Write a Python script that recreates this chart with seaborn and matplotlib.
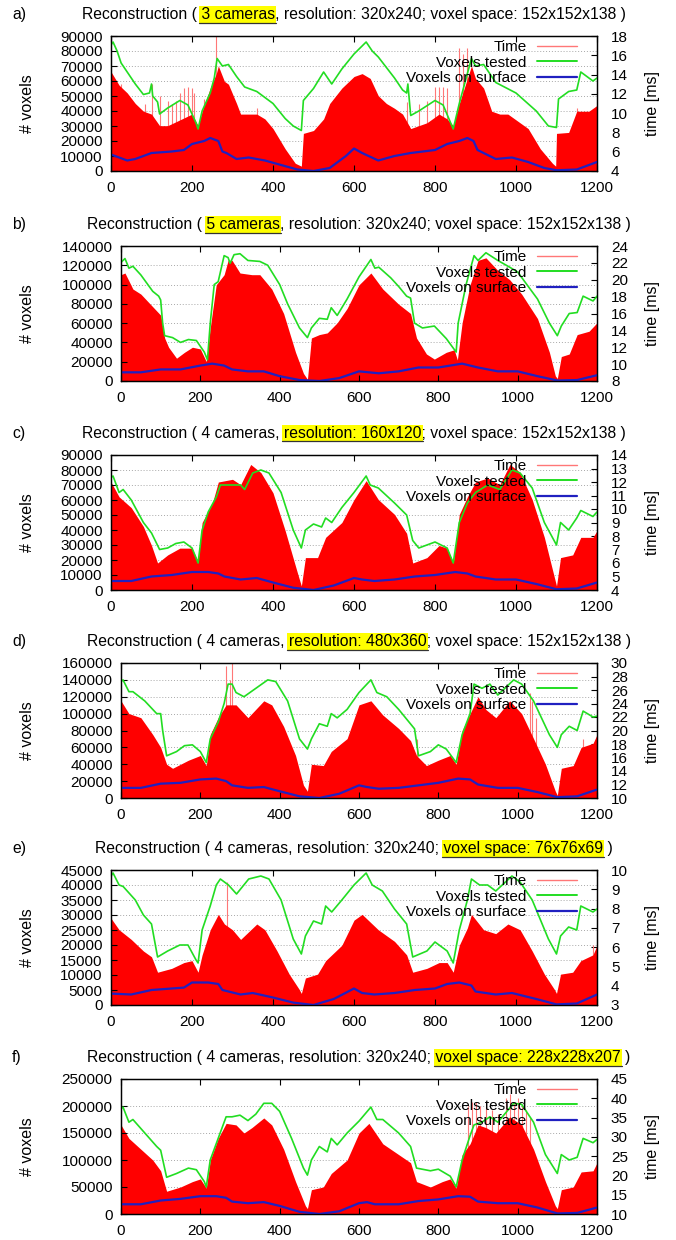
import matplotlib
matplotlib.use("Agg")
import matplotlib.pyplot as plt
from matplotlib.lines import Line2D
from matplotlib.patches import Rectangle
from matplotlib.ticker import FormatStrFormatter
import seaborn as sns
import numpy as np

# ── data (x = frame number) ─────────────────────────────────────────────
PANEL_TAGS = ["a)", "b)", "c)", "d)", "e)", "f)"]
TITLE_PRE = ["Reconstruction ( ", "Reconstruction ( ",
             "Reconstruction ( 4 cameras, ", "Reconstruction ( 4 cameras, ",
             "Reconstruction ( 4 cameras, resolution: 320x240; ",
             "Reconstruction ( 4 cameras, resolution: 320x240; "]
TITLE_HL = ["3 cameras", "5 cameras", "resolution: 160x120", "resolution: 480x360",
            "voxel space: 76x76x69", "voxel space: 228x228x207"]
TITLE_POST = [", resolution: 320x240; voxel space: 152x152x138 )",
              ", resolution: 320x240; voxel space: 152x152x138 )",
              "; voxel space: 152x152x138 )", "; voxel space: 152x152x138 )",
              " )", " )"]
VOX_MAX = [90000, 140000, 90000, 160000, 45000, 250000]
VOX_STEP = [10000, 20000, 10000, 20000, 5000, 50000]
TIME_MIN = [4, 8, 4, 10, 3, 10]
TIME_MAX = [18, 24, 14, 30, 10, 45]
TIME_STEP = [2, 2, 1, 2, 1, 5]
XTICKS = [0, 200, 400, 600, 800, 1000, 1200]
LEGEND_LABELS = ["Time", "Voxels tested", "Voxels on surface"]

# panel a
A_TESTED_X = [0, 5, 15, 25, 40, 60, 80, 95, 100, 103, 115, 120, 140, 170, 190, 210, 215, 225, 245, 255,
              262, 275, 290, 310, 330, 360, 400, 430, 450, 470, 475, 500, 525, 545, 570, 600, 630, 645, 660, 700,
              720, 730, 733, 740, 760, 800, 820, 845, 860, 890, 900, 920, 950, 1000, 1050, 1080, 1100, 1105, 1130, 1150,
              1160, 1190, 1200]
A_TESTED = [84000, 86000, 80000, 72000, 66000, 58000, 51000, 52000, 58000, 50000, 46000, 38000, 42000, 47000, 44000, 32000, 28000, 40000, 52000, 62000,
            75000, 70000, 71000, 63000, 56000, 53000, 45000, 35000, 30000, 27000, 47000, 55000, 66000, 58000, 68000, 78000, 86000, 80000, 76000, 62000,
            54000, 52000, 58000, 37000, 40000, 47000, 44000, 28000, 45000, 75000, 70000, 71000, 59000, 52000, 40000, 30000, 29000, 48000, 53000, 54000,
            66000, 60000, 62000]
A_SURF_X = [0, 20, 40, 60, 100, 150, 180, 200, 230, 245, 265, 275, 285, 310, 340, 380, 420, 460, 500, 540,
            580, 600, 620, 660, 700, 740, 800, 830, 860, 880, 895, 905, 920, 950, 990, 1030, 1070, 1100, 1150, 1180, 1200]
A_SURF = [11000, 9000, 7000, 8000, 12000, 13000, 14000, 18000, 20000, 22000, 20000, 13000, 12000, 8000, 9000, 7000, 4000, 1000, 0, 2000,
          10000, 15000, 12000, 7000, 10000, 12000, 14000, 18000, 20000, 22000, 20000, 14000, 12000, 8000, 9000, 6000, 2000, 500, 1000, 4000, 6000]
A_TIME_X = [0, 10, 20, 40, 60, 80, 100, 120, 140, 170, 200, 215, 225, 245, 260, 265, 280, 290, 310, 320,
            340, 360, 380, 400, 430, 455, 470, 475, 500, 525, 540, 570, 600, 620, 640, 660, 680, 700, 720, 740,
            780, 810, 830, 845, 860, 880, 890, 900, 920, 940, 960, 980, 1000, 1030, 1060, 1090, 1098, 1100, 1130, 1150,
            1180, 1200]
A_TIME = [14.3, 13.6, 12.9, 12.1, 11.0, 10.2, 9.9, 8.7, 8.7, 9.3, 9.9, 8.7, 10.2, 12.6, 14.1, 14.9, 13.3, 13.0, 11.0, 9.9,
          9.9, 9.9, 9.4, 8.4, 6.3, 4.8, 4.5, 7.9, 8.2, 9.4, 11.0, 12.6, 13.8, 14.1, 13.6, 11.8, 11.0, 10.5, 9.9, 8.4,
          9.0, 9.9, 9.4, 8.7, 11.0, 13.6, 14.9, 13.6, 12.6, 10.2, 9.9, 9.9, 9.3, 8.4, 6.3, 4.8, 4.5, 7.9, 8.0, 10.2,
          10.2, 10.8]
A_SPIKE_X = [25, 85, 100, 120, 140, 150, 160, 170, 180, 190, 200, 205, 230, 260, 360, 730, 760, 780, 800, 810,
             820, 830, 860, 870, 880, 1150]
A_SPIKE = [13.0, 11.0, 13.0, 11.8, 11.3, 11.0, 11.3, 12.1, 12.6, 12.7, 12.6, 12.1, 11.5, 18.0, 10.5, 11.2, 11.0, 11.3, 12.7, 12.7,
           12.7, 12.6, 16.8, 16.1, 16.8, 10.5]

# panel b
B_TESTED_X = [0, 10, 20, 30, 50, 80, 95, 100, 105, 110, 130, 150, 170, 190, 210, 218, 225, 235, 245, 260,
              270, 275, 285, 300, 320, 350, 370, 400, 420, 450, 470, 480, 500, 520, 530, 545, 570, 600, 630, 640,
              650, 680, 700, 720, 730, 740, 760, 790, 820, 845, 850, 870, 890, 900, 920, 950, 980, 1000, 1050, 1080,
              1100, 1110, 1130, 1150, 1165, 1190, 1200]
B_TESTED = [123000, 127000, 117000, 119000, 110000, 93000, 88000, 84000, 60000, 47000, 45000, 40000, 43000, 42000, 30000, 22000, 60000, 100000, 103000, 130000,
            128000, 122000, 131000, 132000, 125000, 124000, 120000, 100000, 80000, 55000, 45000, 55000, 65000, 64000, 76000, 68000, 85000, 108000, 126000, 117000,
            118000, 107000, 98000, 88000, 86000, 60000, 55000, 57000, 44000, 30000, 60000, 100000, 130000, 125000, 133000, 125000, 118000, 113000, 85000, 60000,
            47000, 57000, 70000, 71000, 88000, 83000, 88000]
B_SURF_X = [0, 50, 100, 150, 200, 230, 260, 280, 320, 360, 400, 450, 500, 550, 600, 650, 700, 750, 800, 860,
            900, 950, 1000, 1050, 1100, 1150, 1200]
B_SURF = [9000, 9000, 12000, 12000, 16000, 18000, 16000, 12000, 10000, 10000, 5000, 1000, 0, 3000, 10000, 8000, 10000, 14000, 14000, 18000,
          14000, 10000, 10000, 5000, 500, 1000, 6000]
B_TIME_X = [0, 10, 30, 50, 80, 100, 110, 120, 140, 160, 180, 200, 215, 225, 240, 260, 270, 280, 300, 330,
            350, 380, 410, 440, 460, 470, 480, 500, 520, 545, 570, 600, 630, 660, 700, 730, 745, 770, 790, 820,
            840, 848, 860, 880, 900, 920, 950, 980, 1010, 1050, 1080, 1095, 1100, 1110, 1130, 1150, 1180, 1200]
B_TIME = [20.6, 20.8, 18.9, 18.3, 16.8, 15.8, 13.1, 12.0, 10.7, 11.4, 12.0, 11.8, 10.3, 14.3, 19.4, 20.6, 22.3, 22.3, 20.8, 20.6,
          20.6, 18.9, 16.0, 11.4, 8.9, 8.2, 13.1, 13.5, 13.7, 14.9, 16.6, 19.4, 20.8, 18.9, 17.1, 16.0, 13.1, 11.2, 10.6, 11.4,
          11.7, 10.5, 14.9, 19.4, 22.3, 22.6, 21.1, 20.0, 18.3, 15.4, 11.4, 8.6, 8.3, 10.9, 11.2, 13.5, 13.9, 14.9]
B_SPIKE_X = []
B_SPIKE = []

# panel c
C_TESTED_X = [0, 5, 20, 30, 50, 80, 100, 120, 140, 160, 180, 200, 215, 225, 240, 260, 270, 290, 320, 330,
              350, 370, 390, 420, 450, 470, 480, 500, 520, 530, 545, 570, 600, 630, 640, 660, 700, 730, 745, 760,
              800, 830, 845, 860, 880, 900, 930, 960, 990, 1010, 1040, 1070, 1100, 1110, 1130, 1150, 1160, 1190, 1200]
C_TESTED = [75000, 76000, 65000, 67000, 60000, 45000, 38000, 27000, 28000, 31000, 32000, 28000, 18000, 40000, 52000, 62000, 70000, 70000, 70000, 67000,
            78000, 80000, 78000, 65000, 40000, 28000, 40000, 44000, 42000, 48000, 45000, 55000, 65000, 76000, 70000, 68000, 58000, 50000, 33000, 28000,
            32000, 28000, 18000, 45000, 58000, 65000, 70000, 67000, 80000, 78000, 68000, 45000, 30000, 45000, 40000, 48000, 53000, 49000, 52000]
C_SURF_X = [0, 50, 100, 150, 200, 240, 265, 280, 320, 360, 400, 450, 500, 550, 600, 620, 650, 700, 750, 800,
            850, 880, 900, 950, 1000, 1050, 1100, 1150, 1200]
C_SURF = [6000, 6000, 9000, 10000, 12000, 12000, 11000, 9000, 7000, 8000, 5000, 1500, 0, 3000, 8000, 7000, 6000, 7000, 9000, 10000,
          12000, 11000, 9000, 7000, 7000, 4000, 500, 1000, 5000]
C_TIME_X = [0, 20, 50, 80, 100, 115, 140, 170, 200, 215, 225, 250, 265, 300, 320, 345, 370, 400, 430, 460,
            470, 480, 510, 530, 570, 600, 630, 660, 700, 730, 745, 780, 810, 830, 845, 860, 880, 900, 930, 960,
            985, 1010, 1040, 1070, 1100, 1110, 1140, 1160, 1190, 1200]
C_TIME = [12.0, 10.9, 10.1, 8.7, 7.3, 6.0, 6.6, 7.1, 7.1, 6.1, 9.0, 10.4, 12.0, 12.2, 11.8, 13.3, 12.7, 11.2, 8.4, 5.3,
          4.3, 6.4, 6.4, 7.9, 9.0, 10.7, 12.1, 10.7, 9.6, 8.2, 6.0, 6.4, 7.3, 7.1, 6.0, 9.6, 10.9, 12.0, 12.3, 11.8,
          13.3, 12.7, 10.7, 7.9, 4.3, 6.4, 6.6, 7.9, 7.9, 8.4]
C_SPIKE_X = []
C_SPIKE = []

# panel d
D_TESTED_X = [0, 5, 20, 30, 60, 90, 100, 105, 115, 140, 160, 180, 200, 215, 225, 245, 260, 270, 280, 290,
              310, 340, 370, 390, 420, 450, 470, 480, 500, 520, 530, 545, 570, 600, 630, 645, 670, 700, 740, 750,
              780, 800, 820, 845, 860, 880, 890, 910, 930, 950, 990, 1010, 1040, 1080, 1100, 1110, 1130, 1150, 1165, 1190,
              1200]
D_TESTED = [138000, 140000, 126000, 126000, 115000, 100000, 100000, 80000, 50000, 55000, 62000, 63000, 55000, 42000, 70000, 90000, 112000, 135000, 135000, 125000,
            120000, 130000, 140000, 138000, 115000, 70000, 58000, 70000, 88000, 85000, 100000, 95000, 105000, 125000, 140000, 125000, 120000, 105000, 82000, 50000,
            55000, 63000, 58000, 42000, 75000, 100000, 135000, 130000, 135000, 122000, 140000, 135000, 115000, 75000, 60000, 75000, 85000, 80000, 103000, 96000,
            97000]
D_SURF_X = [0, 50, 100, 150, 200, 240, 265, 280, 320, 360, 400, 450, 500, 550, 600, 620, 650, 700, 750, 800,
            850, 880, 900, 950, 1000, 1050, 1100, 1150, 1200]
D_SURF = [12000, 12000, 17000, 18000, 22000, 23000, 20000, 15000, 12000, 13000, 8000, 2000, 0, 5000, 15000, 13000, 11000, 12000, 15000, 18000,
          23000, 22000, 16000, 12000, 12000, 7000, 1000, 2000, 10000]
D_TIME_X = [0, 20, 50, 80, 100, 115, 130, 170, 200, 215, 225, 245, 265, 290, 320, 360, 380, 410, 440, 460,
            470, 480, 510, 530, 570, 600, 630, 660, 700, 730, 745, 770, 800, 830, 845, 860, 880, 900, 920, 945,
            980, 1010, 1040, 1070, 1095, 1100, 1110, 1140, 1160, 1190, 1200]
D_TIME = [24.4, 22.5, 21.9, 19.4, 17.5, 15.0, 14.4, 15.6, 16.3, 14.8, 19.4, 21.9, 23.8, 23.8, 21.9, 24.4, 23.8, 20.6, 16.3, 11.9,
          11.0, 15.0, 14.8, 16.9, 18.8, 23.8, 24.4, 22.3, 20.3, 18.5, 16.3, 14.8, 15.6, 16.3, 15.0, 20.0, 22.5, 25.0, 23.1, 21.9,
          24.4, 22.5, 18.8, 15.0, 11.0, 10.4, 14.4, 14.8, 17.5, 18.1, 19.4]
D_SPIKE_X = [265, 275, 280, 745, 1030, 1035, 1045, 1165]
D_SPIKE = [29.6, 27.5, 30.0, 18.8, 25.6, 24.4, 21.9, 18.8]

# panel e
E_TESTED_X = [0, 5, 20, 30, 60, 80, 100, 115, 140, 170, 190, 210, 215, 225, 245, 260, 270, 290, 310, 340,
              370, 390, 420, 450, 470, 480, 500, 520, 530, 545, 570, 600, 630, 645, 670, 700, 730, 745, 780, 800,
              830, 845, 860, 880, 890, 910, 930, 950, 990, 1010, 1040, 1080, 1100, 1110, 1130, 1150, 1160, 1190, 1200]
E_TESTED = [43000, 44000, 40000, 39500, 35000, 30000, 27000, 16000, 18000, 20000, 20000, 15000, 14000, 25000, 33000, 40000, 42000, 40000, 37000, 42000,
            43000, 42000, 35000, 22000, 17000, 23000, 28000, 27000, 33000, 31000, 35000, 40000, 44000, 40000, 38000, 32000, 27000, 16000, 18000, 21000,
            18000, 14000, 25000, 35000, 42000, 40000, 40000, 38000, 43000, 41000, 35000, 22000, 17000, 23000, 26000, 25000, 33000, 31000, 32000]
E_SURF_X = [0, 50, 100, 150, 180, 200, 240, 265, 275, 320, 350, 400, 450, 500, 550, 600, 620, 650, 700, 750,
            800, 830, 860, 890, 900, 950, 990, 1050, 1100, 1150, 1200]
E_SURF = [3800, 3500, 5000, 5500, 5800, 7500, 7500, 7000, 5000, 3500, 4000, 2500, 800, 0, 2000, 5500, 4000, 3500, 4000, 5000,
          5500, 7000, 7500, 6500, 4500, 3500, 4000, 2000, 200, 500, 3500]
E_TIME_X = [0, 20, 50, 80, 100, 115, 150, 180, 200, 215, 225, 245, 265, 280, 300, 320, 360, 380, 410, 440,
            465, 470, 480, 510, 530, 570, 600, 620, 660, 700, 730, 745, 780, 810, 830, 845, 860, 880, 890, 920,
            950, 980, 1010, 1040, 1070, 1095, 1100, 1110, 1140, 1160, 1190, 1200]
E_TIME = [7.5, 6.9, 6.4, 5.8, 5.5, 4.7, 4.9, 5.2, 5.3, 4.7, 5.6, 6.9, 7.7, 7.2, 6.9, 6.4, 7.2, 6.9, 5.8, 4.6,
          3.8, 3.6, 4.4, 4.6, 5.3, 6.1, 7.4, 7.7, 6.9, 6.3, 5.6, 4.7, 4.9, 5.2, 5.2, 4.7, 6.1, 7.0, 7.7, 6.9,
          6.7, 7.2, 6.9, 5.8, 4.6, 3.8, 3.6, 4.6, 4.7, 5.3, 5.6, 6.1]
E_SPIKE_X = [287, 1190]
E_SPIKE = [9.4, 6.1]

# panel f
F_TESTED_X = [0, 5, 20, 30, 60, 90, 100, 115, 140, 170, 190, 210, 215, 225, 250, 265, 280, 300, 320, 340,
              360, 380, 400, 430, 460, 470, 480, 500, 520, 530, 545, 570, 600, 630, 645, 660, 700, 730, 745, 780,
              800, 830, 845, 860, 880, 890, 910, 930, 950, 990, 1010, 1040, 1070, 1100, 1110, 1130, 1150, 1165, 1190, 1200]
F_TESTED = [195000, 198000, 170000, 175000, 150000, 125000, 118000, 68000, 75000, 85000, 82000, 60000, 50000, 100000, 150000, 180000, 180000, 183000, 173000, 185000,
            205000, 205000, 190000, 140000, 85000, 72000, 100000, 125000, 115000, 140000, 128000, 150000, 172000, 198000, 175000, 175000, 150000, 125000, 85000, 80000,
            83000, 70000, 50000, 100000, 145000, 165000, 170000, 180000, 170000, 205000, 203000, 170000, 110000, 75000, 110000, 100000, 105000, 140000, 132000, 138000]
F_SURF_X = [0, 50, 100, 150, 200, 240, 265, 280, 320, 360, 400, 450, 500, 550, 600, 620, 640, 700, 750, 800,
            850, 880, 900, 950, 1000, 1050, 1100, 1150, 1200]
F_SURF = [18000, 18000, 25000, 28000, 33000, 33000, 30000, 23000, 20000, 22000, 15000, 4000, 0, 5000, 20000, 22000, 18000, 18000, 24000, 27000,
          33000, 32000, 23000, 20000, 20000, 12000, 1000, 2000, 12000]
F_TIME_X = [0, 20, 50, 80, 100, 115, 150, 180, 200, 215, 225, 245, 265, 290, 310, 330, 360, 380, 410, 440,
            465, 470, 480, 510, 530, 570, 600, 625, 660, 700, 730, 745, 780, 810, 830, 845, 860, 880, 900, 920,
            945, 980, 1010, 1040, 1070, 1095, 1100, 1110, 1140, 1160, 1190, 1200]
F_TIME = [33.1, 29.6, 26.8, 24.0, 21.2, 15.9, 17.0, 18.4, 19.1, 16.7, 24.0, 29.6, 33.5, 33.1, 31.0, 32.4, 34.9, 33.1, 26.8, 18.4,
          12.1, 11.4, 16.3, 17.0, 20.5, 24.0, 31.0, 33.5, 28.2, 25.4, 23.3, 18.4, 17.0, 18.4, 19.1, 16.7, 25.4, 28.2, 33.1, 32.4,
          31.0, 35.2, 33.1, 26.8, 18.4, 12.1, 11.4, 16.3, 17.0, 20.9, 21.2, 23.3]
F_SPIKE_X = [875, 885, 895, 905, 920, 935, 950, 970, 980, 990, 1000, 1010, 1020, 1030]
F_SPIKE = [38, 39, 39, 38, 38, 37, 36, 40, 41, 39, 40, 38, 37, 35]

PANELS = [
    (A_TESTED_X, A_TESTED, A_SURF_X, A_SURF, A_TIME_X, A_TIME, A_SPIKE_X, A_SPIKE),
    (B_TESTED_X, B_TESTED, B_SURF_X, B_SURF, B_TIME_X, B_TIME, B_SPIKE_X, B_SPIKE),
    (C_TESTED_X, C_TESTED, C_SURF_X, C_SURF, C_TIME_X, C_TIME, C_SPIKE_X, C_SPIKE),
    (D_TESTED_X, D_TESTED, D_SURF_X, D_SURF, D_TIME_X, D_TIME, D_SPIKE_X, D_SPIKE),
    (E_TESTED_X, E_TESTED, E_SURF_X, E_SURF, E_TIME_X, E_TIME, E_SPIKE_X, E_SPIKE),
    (F_TESTED_X, F_TESTED, F_SURF_X, F_SURF, F_TIME_X, F_TIME, F_SPIKE_X, F_SPIKE),
]

# ── style / layout (pixels) ─────────────────────────────────────────────
sns.set_theme(style="ticks")
plt.rcParams['font.family'] = ['Liberation Sans', 'DejaVu Sans']
plt.rcParams['text.color'] = 'black'
plt.rcParams['xtick.color'] = 'black'
plt.rcParams['ytick.color'] = 'black'
plt.rcParams['axes.edgecolor'] = 'black'

W, H = 676, 1240
TITLE_Y = [14, 224, 433, 641, 848, 1057]
AX_LEFT = [111, 121, 111, 121, 111, 121]
AX_RIGHT = 597
AX_H = 135
RED = "#ff0000"
PINK = "#ff7777"
GREEN = "#22dd22"
BLUE = "#2020c0"
TICK_FS = 11
TITLE_FS = 11.35

fig = plt.figure(figsize=(W / 100, H / 100), dpi=100)
renderer = fig.canvas.get_renderer()


def text_w(s, fs):
    # width of a string incl. trailing spaces (measured against a sentinel)
    t = fig.text(0, 0, s + "|", fontsize=fs)
    w = t.get_window_extent(renderer).width
    t.remove()
    t = fig.text(0, 0, "|", fontsize=fs)
    w0 = t.get_window_extent(renderer).width
    t.remove()
    return w - w0


def fx(px):
    return px / W


def fy(py):
    return 1 - py / H


for i, (tx, tv, sx, sv, mx, mv, kx, kv) in enumerate(PANELS):
    left = AX_LEFT[i]
    top = TITLE_Y[i] + 22
    ax = fig.add_axes([fx(left), fy(top + AX_H), (AX_RIGHT - left) / W, AX_H / H])
    ax2 = ax.twinx()
    ax.set_zorder(ax2.get_zorder() + 1)
    ax.patch.set_visible(False)

    lo, hi = TIME_MIN[i], TIME_MAX[i]
    vox_ticks = np.arange(0, VOX_MAX[i] + 1, VOX_STEP[i])

    # dotted grid at the voxel ticks, kept under the red time area
    for t in vox_ticks[1:-1]:
        ax2.plot([0, 1], [t, t], transform=ax.get_yaxis_transform(),
                 color="#a8a8a8", lw=0.7, ls=(0, (1, 2)), zorder=0.5)

    # spikes sit behind the filled area, so only their tips show
    if kx:
        ax2.vlines(kx, lo, kv, color=PINK, lw=0.8, zorder=0.8)
    ax2.fill_between(mx, lo, mv, color=RED, linewidth=0, zorder=1)

    sns.lineplot(x=tx, y=tv, ax=ax, color=GREEN, lw=1.2, legend=False)
    sns.lineplot(x=sx, y=sv, ax=ax, color=BLUE, lw=1.6, legend=False)

    ax.set_xlim(0, 1200)
    ax.set_ylim(0, VOX_MAX[i])
    ax.set_xticks(XTICKS)
    ax.set_yticks(vox_ticks)
    ax.yaxis.set_major_formatter(FormatStrFormatter('%d'))
    ax.set_xlabel("")
    ax.set_ylabel("")
    ax.tick_params(axis='both', direction='in', length=4, width=0.8, labelsize=TICK_FS,
                   top=True, bottom=True, left=True, right=False)
    ax.tick_params(axis='y', pad=6)
    ax.tick_params(axis='x', pad=7)

    ax2.set_ylim(lo, hi)
    ax2.set_yticks(np.arange(lo, hi + 0.01, TIME_STEP[i]))
    ax2.yaxis.set_major_formatter(FormatStrFormatter('%d'))
    ax2.tick_params(axis='y', direction='in', length=4, width=0.8, labelsize=TICK_FS,
                    right=True, left=False, pad=10)
    for a in (ax, ax2):
        for sp in a.spines.values():
            sp.set_color('black')
            sp.set_linewidth(0.9)

    handles = [Line2D([], [], color=PINK, lw=1.0),
               Line2D([], [], color=GREEN, lw=1.4),
               Line2D([], [], color=BLUE, lw=1.6)]
    aw = AX_RIGHT - left
    ax.legend(handles, LEGEND_LABELS, loc='upper right',
              bbox_to_anchor=(1 - 20 / aw, 1 - 4 / AX_H),
              borderaxespad=0, borderpad=0, frameon=False, markerfirst=False,
              handlelength=2.6, handletextpad=0.7, labelspacing=0.1, fontsize=11)

    # axis labels
    fig.text(fx(28), fy(top + AX_H / 2), "# voxels", rotation=90,
             ha='center', va='center', fontsize=11.5)
    fig.text(fx(652), fy(top + AX_H / 2), "time [ms]", rotation=90,
             ha='center', va='center', fontsize=11.5)

    # title with highlighted part
    base = TITLE_Y[i] + 5
    full = TITLE_PRE[i] + TITLE_HL[i] + TITLE_POST[i]
    cx = (left + AX_RIGHT) / 2
    x0 = cx - text_w(full, TITLE_FS) / 2
    fig.text(fx(12), fy(base), PANEL_TAGS[i], fontsize=TITLE_FS, va='baseline', ha='left')
    fig.text(fx(x0), fy(base), full, fontsize=TITLE_FS, va='baseline', ha='left', zorder=3)
    hx0 = x0 + text_w(TITLE_PRE[i], TITLE_FS) - 2
    hx1 = x0 + text_w(TITLE_PRE[i] + TITLE_HL[i], TITLE_FS) + 1
    fig.add_artist(Rectangle((fx(hx0), fy(base + 4)), (hx1 - hx0) / W, 17 / H,
                             transform=fig.transFigure, facecolor="#ffff00",
                             edgecolor='none', zorder=1))
    fig.add_artist(Line2D([fx(hx0), fx(hx1)], [fy(base + 3.5), fy(base + 3.5)],
                          transform=fig.transFigure, color="#333333", lw=0.9, zorder=2))

fig.savefig("out.png", dpi=100)
